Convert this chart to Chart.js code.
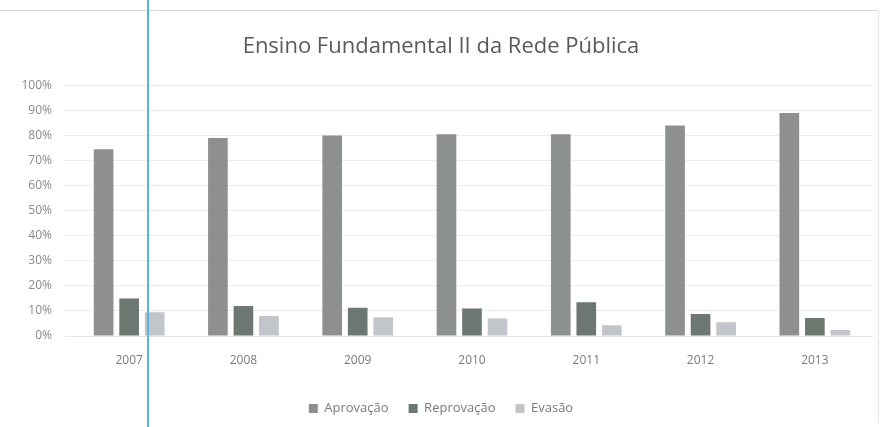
<!DOCTYPE html>
<html>
<head>
<meta charset="utf-8">
<script src="https://cdn.jsdelivr.net/npm/chart.js@4"></script>
<style>
    html, body { margin: 0; padding: 0; background: #fff; }
    #wrap { position: relative; width: 882px; height: 427px; }
    #frame { position: absolute; left: 0; top: 10px; width: 878px; height: 412px; border-top: 1px solid #d8d8d8; border-right: 1px solid #e6e6e6; }
    #cursor { position: absolute; left: 147px; top: 0; width: 2px; height: 427px; background: #55b4e2; }
</style>
</head>
<body>
<div id="wrap">
    <div id="frame"></div>
    <canvas id="chart" width="882" height="427"></canvas>
    <div id="cursor"></div>
</div>
<script>
let years = ["2007", "2008", "2009", "2010", "2011", "2012", "2013"];
let aprovacao = [74.5, 79, 80, 80.5, 80.5, 84, 89];
let reprovacao = [15, 12, 11.3, 11, 13.5, 8.8, 7.2];
let evasao = [9.5, 8, 7.5, 7, 4.3, 5.5, 2.4];
let yTicks = [0, 10, 20, 30, 40, 50, 60, 70, 80, 90, 100];

let font = "'Open Sans', 'DejaVu Sans', sans-serif";

function makeSet(label, data, color) {
    return {
        label: label,
        data: data,
        backgroundColor: color,
        borderWidth: 0,
        categoryPercentage: 0.67,
        barPercentage: 0.77
    };
}

let ctx = document.getElementById("chart").getContext("2d");
let chart = new Chart(ctx, {
    type: "bar",
    data: {
        labels: years,
        datasets: [
            makeSet("Aprovação", aprovacao, "#8e8f8f"),
            makeSet("Reprovação", reprovacao, "#6d7772"),
            makeSet("Evasão", evasao, "#c2c5c9")
        ]
    },
    options: {
        responsive: false,
        animation: false,
        layout: { padding: { top: 10, left: 10, right: 10, bottom: 2 } },
        plugins: {
            title: {
                display: true,
                text: "Ensino Fundamental II da Rede Pública",
                color: "#5a5a5a",
                font: { family: font, size: 22, weight: "normal" },
                padding: { top: 24, bottom: 25 }
            },
            legend: {
                position: "bottom",
                labels: {
                    color: "#7a7a7a",
                    font: { family: font, size: 13 },
                    boxWidth: 9,
                    boxHeight: 9,
                    padding: 20
                }
            },
            tooltip: { enabled: false }
        },
        scales: {
            x: {
                grid: { display: false },
                border: { display: true, color: "#e4e4e4" },
                ticks: { color: "#7a7a7a", font: { family: font, size: 12 }, padding: 9 },
                afterFit: function (s) { s.height = 46; }
            },
            y: {
                min: 0,
                max: 100,
                afterBuildTicks: function (s) { s.ticks = yTicks.map(v => ({ value: v })); },
                grid: { color: "#ececec" },
                border: { display: false },
                ticks: {
                    color: "#8a8a8a",
                    font: { family: font, size: 12 },
                    padding: 12,
                    callback: v => v + "%"
                },
                afterFit: function (s) { s.width = 62; }
            }
        }
    }
});
</script>
</body>
</html>
